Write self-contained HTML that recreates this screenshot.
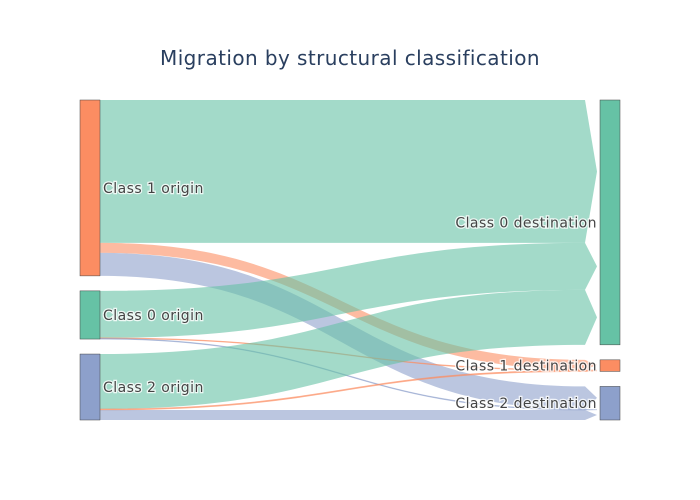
<!DOCTYPE html>
<html><head><meta charset="utf-8"><style>
body{margin:0;background:#fff}
svg{display:block;font-family:"DejaVu Sans","Liberation Sans",sans-serif}
</style></head><body>
<svg id="chart" width="700" height="500">
<text x="350" y="65" text-anchor="middle" font-size="20" letter-spacing="0.42" fill="rgb(42,63,95)">Migration by structural classification</text>
<g id="links"></g>
<g id="nodes"></g>
</svg>
<script>
const nodeLabels = ["Class 1 origin","Class 0 origin","Class 2 origin","Class 0 destination","Class 1 destination","Class 2 destination"];
const nodeColumns = [0,0,0,1,1,1];
const nodeColors = ["#fc8d62","#66c2a5","#8da0cb","#66c2a5","#fc8d62","#8da0cb"];
const linkSources = [0,0,0,1,1,1,2,2,2];
const linkTargets = [3,4,5,3,4,5,3,4,5];
const linkValues = [143,10,23,47,0.6,0.6,55,1,10];
const linkColors = {3:"rgba(102,194,165,0.6)",4:"rgba(252,141,98,0.6)",5:"rgba(141,160,203,0.6)"};

const NS="http://www.w3.org/2000/svg";
const top0=100, bot0=420, pad=15, colX=[80,600], nw=20, arrow=15;
const inV=nodeLabels.map(()=>0), outV=nodeLabels.map(()=>0);
linkValues.forEach((v,i)=>{outV[linkSources[i]]+=v;inV[linkTargets[i]]+=v;});
const val=nodeLabels.map((_,i)=>Math.max(inV[i],outV[i]));
const cols=[0,1].map(c=>nodeLabels.map((_,i)=>i).filter(i=>nodeColumns[i]===c));
let ky=Infinity;
cols.forEach(c=>{const tot=c.reduce((s,i)=>s+val[i],0);ky=Math.min(ky,(bot0-top0-pad*(c.length-1))/tot);});
const ny=[],nh=[];
cols.forEach(c=>{const tot=c.reduce((s,i)=>s+val[i],0)*ky+pad*(c.length-1);let y=top0+((bot0-top0)-tot)/2;
 c.forEach(i=>{ny[i]=y;nh[i]=val[i]*ky;y+=nh[i]+pad;});});
const so=ny.slice(), to=ny.slice();
const lg=document.getElementById('links');
linkValues.forEach((v,i)=>{
 const s=linkSources[i],t=linkTargets[i],h=v*ky;
 const y0=so[s],y1=to[t];so[s]+=h;to[t]+=h;
 const x0=colX[0]+nw,x1=colX[1]-arrow,xm=(x0+x1)/2,tip=colX[1]-3;
 const d=`M${x0},${y0}C${xm},${y0} ${xm},${y1} ${x1},${y1}L${tip},${y1+h/2}L${x1},${y1+h}C${xm},${y1+h} ${xm},${y0+h} ${x0},${y0+h}Z`;
 const p=document.createElementNS(NS,'path');
 p.setAttribute('d',d);p.setAttribute('fill',linkColors[t]);
 if(h<2){p.setAttribute('stroke',linkColors[t]);p.setAttribute('stroke-width','0.8');}
 
 
 lg.appendChild(p);
});
const ng=document.getElementById('nodes');
nodeLabels.forEach((l,i)=>{
 const r=document.createElementNS(NS,'rect');
 r.setAttribute('x',colX[nodeColumns[i]]);r.setAttribute('y',ny[i]);r.setAttribute('width',nw);r.setAttribute('height',nh[i]);
 r.setAttribute('fill',nodeColors[i]);r.setAttribute('stroke','#444');r.setAttribute('stroke-width','0.5');
 
 
 ng.appendChild(r);
 const tx=document.createElementNS(NS,'text');
 const left=nodeColumns[i]===0;
 tx.setAttribute('x',left?colX[0]+nw+3:colX[1]-3);tx.setAttribute('y',ny[i]+nh[i]/2+5);
 tx.setAttribute('text-anchor',left?'start':'end');tx.setAttribute('font-size','14');tx.setAttribute('letter-spacing','0.45');tx.setAttribute('fill','#444');
 tx.setAttribute('stroke','#fff');tx.setAttribute('stroke-width','2.5');tx.setAttribute('paint-order','stroke');tx.setAttribute('stroke-opacity','0.8');
 tx.textContent=l;
 
 
 ng.appendChild(tx);
});
</script>
</body></html>
